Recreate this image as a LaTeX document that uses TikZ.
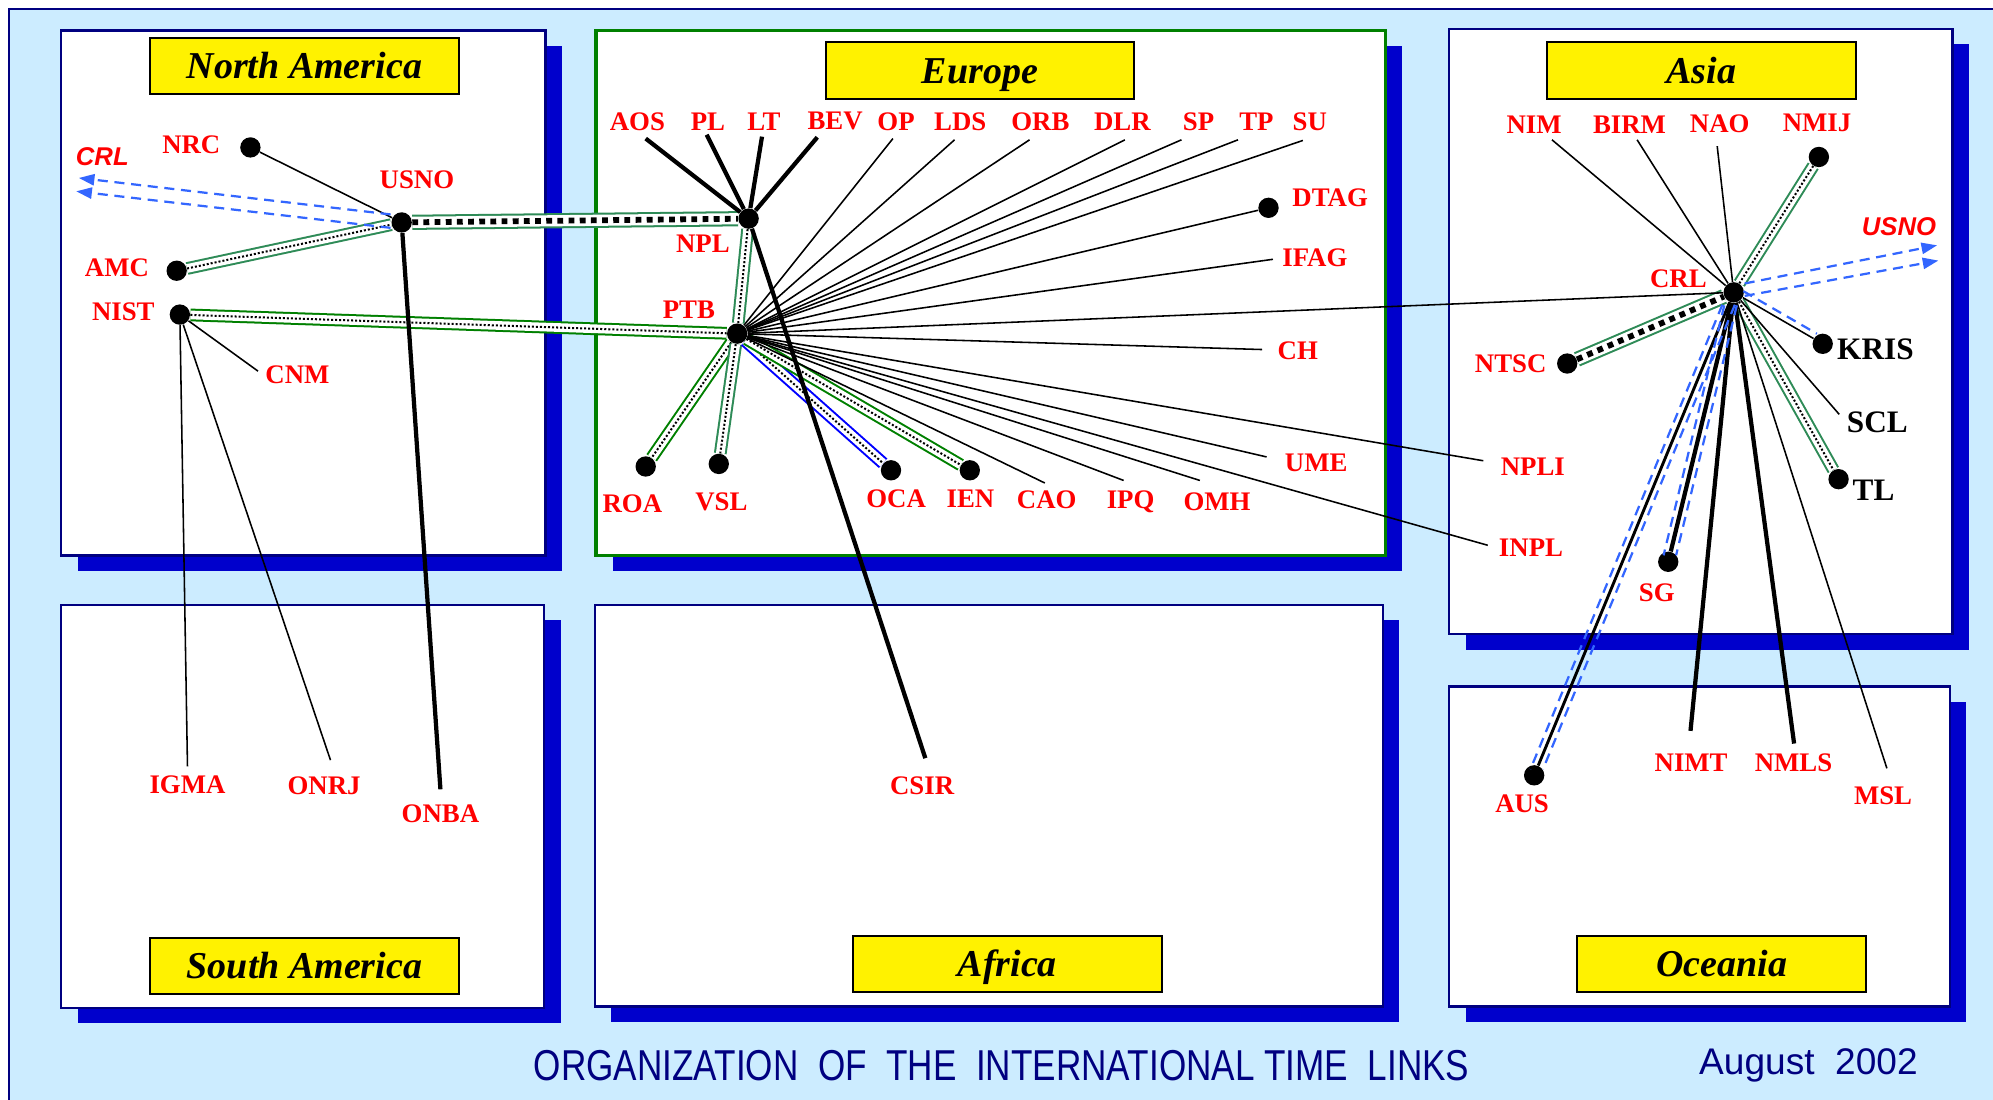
\documentclass[tikz,border=0pt]{standalone}
\usepackage{graphicx}
\usepackage{fontspec}
\setmainfont{Liberation Serif}
\setsansfont{Liberation Sans}
\usetikzlibrary{arrows.meta}
\definecolor{sky}{RGB}{204,236,255}
\definecolor{navy}{RGB}{0,0,128}
\definecolor{shadowblue}{RGB}{0,0,204}
\definecolor{seagreen}{RGB}{46,139,87}
\definecolor{dkgreen}{RGB}{0,128,0}
\definecolor{gpsblue}{RGB}{51,102,255}

\begin{document}
\begin{tikzpicture}[x=0.02cm, y=-0.02cm,
    region/.style={draw=navy, line width=1.1pt, fill=white},
    tag/.style={draw=black, fill=yellow, line width=0.9pt, minimum width=4.86cm,
        minimum height=0.89cm, text height=11.3pt, text depth=0pt,
        font=\bfseries\itshape\fontsize{17}{17}\selectfont},
    dot/.style={circle, fill=black, inner sep=0pt, minimum size=0.32cm},
    lbl/.style={text=red, inner sep=0pt, font=\bfseries\fontsize{12}{12}\selectfont},
    blk/.style={text=black, inner sep=0pt, font=\bfseries\fontsize{14}{14}\selectfont},
    ext/.style={text=red, inner sep=0pt, font=\sffamily\bfseries\itshape\fontsize{11.5}{11.5}\selectfont},
    link/.style={line width=0.7pt},
    heavy/.style={line width=1.9pt},
    gps/.style={draw=gpsblue, line width=1pt, dash pattern=on 4.5pt off 3pt},
    tube/.style={draw=seagreen, double=white, double distance=3.9pt, line width=0.9pt},
    wide/.style={tube, double distance=5pt},
    fine/.style={line width=0.9pt, dash pattern=on 0.9pt off 0.9pt},
    coarse/.style={line width=2.6pt, dash pattern=on 2.6pt off 2.4pt}]

    \useasboundingbox (0,0) rectangle (1568,865);
    \clip (0,0) rectangle (1568,865);
    \draw[navy, line width=1.1pt, fill=sky] (7,7) rectangle (1590,890);

    \foreach \x/\y/\X/\Y in {48/24/429/437, 469/24/1090/437, 1140/23/1536/499,
        48/476/428/793, 468/476/1088/792, 1140/540/1534/792}
        \fill[shadowblue] (\x+13,\y+12) rectangle (\X+13,\Y+12);
    \foreach \x/\y/\X/\Y in {48/24/429/437, 1140/23/1536/499,
        48/476/428/793, 468/476/1088/792, 1140/540/1534/792}
        \draw[region] (\x,\y) rectangle (\X,\Y);
    \draw[region, draw=dkgreen, line width=1.5pt] (469,24) rectangle (1090,437);

    \node[tag] (namer) at (239.5,52) {North America};
    \node[tag] (europe) at (771,55.5) {Europe};
    \node[tag] (asia) at (1338.5,55.5) {Asia};
    \node[tag] (samer) at (239.5,760) {South America};
    \node[tag] (africa) at (792.5,758.5) {Africa};
    \node[tag, minimum width=4.54cm] (oceania) at (1354.5,758.5) {Oceania};

    \node[text=navy, font=\sffamily, inner sep=0pt] (title) at (788,838)
        {\resizebox{14.72cm}{0.475cm}{ORGANIZATION\ \ OF\ \ THE\ \ INTERNATIONAL TIME\ \ LINKS}};
    \node[text=navy, font=\sffamily\fontsize{16.6}{16.6}\selectfont, inner sep=0pt, anchor=base]
        (date) at (1422.8,845.7) {August\ \ 2002};

    \foreach \n/\x/\y in {NRC/197/116, USNO/316/175, AMC/139/213, NIST/141.5/247.5,
        NPL/589/172, PTB/580/262.5, DTAG/998/163.5, ROA/508/367, VSL/565.5/365,
        OCA/701/370, IEN/763/370, CRL/1364/230, NMIJ/1431/123.5, NTSC/1233/286,
        KRIS/1434/270.5, TL/1446.5/377, SG/1312.5/442, AUS/1207/610}
        \node[dot] (\n) at (\x,\y) {};

    \foreach \n/\x/\y in {CNM/203/292, IGMA/147.5/603, ONRJ/260/598, ONBA/346.5/621,
        CSIR/728/596.5, AOS/508/109, PL/556/106, LT/599.5/107.5, BEV/643/108,
        OP/702.5/109, LDS/751/110, ORB/810/110, DLR/885/110, SP/929.5/110,
        TP/974/110, SU/1025/110.5, IFAG/1001.5/204, CH/993/275, UME/996.5/359.5,
        OMH/944/378, IPQ/884/378, CAO/822/380, NIM/1221/110, BIRM/1288/110,
        NAO/1351/115, SCL/1447/326, NPLI/1167/362.5, INPL/1170.5/429,
        NIMT/1330/575, NMLS/1411.5/585, MSL/1484.5/604.5}
        \coordinate (\n) at (\x,\y);
    \coordinate (toCRLa) at (62,140);
    \coordinate (toCRLb) at (60,150.5);
    \coordinate (toUSNOa) at (1524,193);
    \coordinate (toUSNOb) at (1525,205);

    \draw[wide] (USNO) -- (NPL);
    \draw[coarse] (USNO) -- (NPL);
    \draw[wide] (NTSC) -- (CRL);
    \draw[coarse] (NTSC) -- (CRL);
    \foreach \a/\b/\c in {AMC/USNO/seagreen, NIST/PTB/dkgreen, NPL/PTB/seagreen,
        PTB/ROA/dkgreen, PTB/VSL/seagreen, PTB/OCA/blue, PTB/IEN/dkgreen,
        CRL/NMIJ/seagreen, CRL/TL/seagreen}
    {
        \draw[tube, draw=\c] (\a) -- (\b);
        \draw[fine] (\a) -- (\b);
    }

    \foreach \a/\b in {NRC/USNO, NIST/CNM, NIST/IGMA, NIST/ONRJ, PTB/OP, PTB/LDS,
        PTB/ORB, PTB/DLR, PTB/SP, PTB/TP, PTB/SU, PTB/DTAG, PTB/IFAG, PTB/CH,
        PTB/UME, PTB/OMH, PTB/IPQ, PTB/CAO, PTB/CRL, PTB/NPLI, PTB/INPL,
        CRL/NIM, CRL/BIRM, CRL/NAO, CRL/KRIS, CRL/SCL, CRL/MSL}
        \draw[link] (\a) -- (\b);
    \foreach \a/\b in {USNO/ONBA, NPL/AOS, NPL/PL, NPL/LT, NPL/BEV, NPL/CSIR,
        CRL/SG, CRL/NIMT, CRL/NMLS}
        \draw[heavy] (\a) -- (\b);
    \draw[line width=1.3pt] (CRL) -- (AUS);

    \foreach \s in {-2.8pt, 2.8pt}
    {
        \draw[gps, shorten <=6pt, shorten >=3pt] ([xshift=\s]CRL.center) -- ([xshift=\s]SG.center);
        \draw[gps, shorten <=6pt, shorten >=3pt] ([xshift=\s]CRL.center) -- ([xshift=\s]AUS.center);
    }
    \draw[gps, shorten <=5pt, shorten >=3pt] ([yshift=3pt]CRL.center) -- ([yshift=3pt]KRIS.center);
    \draw[gps, shorten <=5pt, -{Triangle[length=7pt,width=5pt]}] ([yshift=3pt]CRL.center) -- (toUSNOa);
    \draw[gps, shorten <=5pt, -{Triangle[length=7pt,width=5pt]}] ([yshift=-2.5pt]CRL.center) -- (toUSNOb);
    \draw[gps, shorten <=5pt, -{Triangle[length=7pt,width=5pt]}] ([yshift=3pt]USNO.center) -- (toCRLa);
    \draw[gps, shorten <=5pt, -{Triangle[length=7pt,width=5pt]}] ([yshift=-3pt]USNO.center) -- (toCRLb);

    \foreach \n/\x/\y in {NRC/150.5/114, USNO/328/141.5, AMC/92/211, NIST/97/245.5,
        CNM/234/295, IGMA/147.5/617.5, ONRJ/255/618.5, ONBA/346.5/640.5,
        CSIR/725.5/618.5, NPL/553/191.5, PTB/542/243.5, AOS/501.5/95.5,
        PL/557/95.5, LT/601/95.5, BEV/657/95.5, OP/705/95.5, LDS/755.5/95.5,
        ORB/818.5/95.5, DLR/883/95.5, SP/943/95.5, TP/988.5/95.5, SU/1030.5/95.5,
        DTAG/1046.5/155.5, IFAG/1034.5/203, CH/1021/276, UME/1035.5/364,
        OMH/957.5/394.5, IPQ/889.5/394.5, CAO/823.5/393, IEN/763.5/392.5,
        OCA/705/392.5, ROA/497.5/396, VSL/567.5/395, NIM/1207/98.5,
        BIRM/1282/98.5, NAO/1353/97, NMIJ/1429.5/97, CRL/1320.5/219.5,
        NTSC/1188.5/286.5, NPLI/1206/367, INPL/1204.5/431, SG/1303.5/466.5,
        AUS/1197.5/632, NIMT/1330.5/600, NMLS/1411/600, MSL/1481.5/626}
        \node[lbl] (l\n) at (\x,\y) {\n};
    \foreach \n/\x/\y in {KRIS/1475.5/274.5, SCL/1477/332.5, TL/1474/386}
        \node[blk] (l\n) at (\x,\y) {\n};
    \node[ext] (farCRL) at (80.5,123.5) {CRL};
    \node[ext] (farUSNO) at (1494,178) {USNO};

\end{tikzpicture}
\end{document}
